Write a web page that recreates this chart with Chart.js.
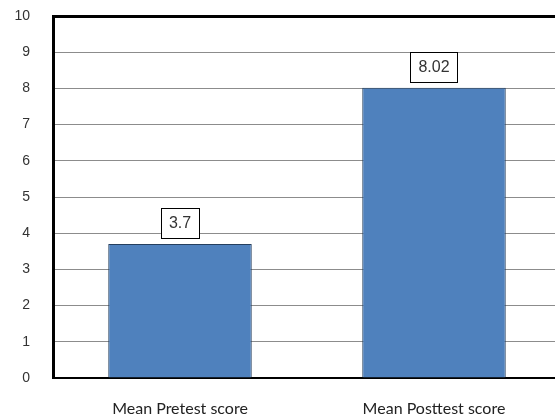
<!DOCTYPE html>
<html>
<head>
<meta charset="utf-8">
<script src="https://cdn.jsdelivr.net/npm/chart.js@4/dist/chart.umd.min.js"></script>
<style>
  html, body { margin: 0; padding: 0; background: #fff; overflow: hidden; }
  #wrap { width: 561px; height: 420px; }
</style>
</head>
<body>
<div id="wrap"><canvas id="scoreChart" width="561" height="420"></canvas></div>
<script>
const categories = ["Mean Pretest score", "Mean Posttest score"];
const meanScores = [3.7, 8.02];
const valueLabels = ["3.7", "8.02"];

// boxed value labels above each bar
const boxLabels = {
  id: "boxLabels",
  afterDatasetsDraw(chart) {
    const ctx = chart.ctx;
    const meta = chart.getDatasetMeta(0);
    ctx.save();
    ctx.font = "16px 'Liberation Sans', Arial, sans-serif";
    ctx.textAlign = "center";
    ctx.textBaseline = "middle";
    meta.data.forEach((bar, i) => {
      const txt = valueLabels[i];
      const w = ctx.measureText(txt).width + 16;
      const h = 30;
      const cy = bar.y - 21;
      ctx.fillStyle = "#fff";
      ctx.fillRect(bar.x - w / 2, cy - h / 2, w, h);
      ctx.strokeStyle = "#000";
      ctx.lineWidth = 1;
      ctx.strokeRect(Math.round(bar.x - w / 2) + 0.5, Math.round(cy - h / 2) + 0.5, Math.round(w), h);
      ctx.fillStyle = "#333";
      ctx.fillText(txt, bar.x, cy + 1);
    });
    ctx.restore();
  },
};

new Chart(document.getElementById("scoreChart"), {
  type: "bar",
  data: {
    labels: categories,
    datasets: [
      {
        data: meanScores,
        backgroundColor: "#4f81bd",
        borderColor: "#253f5e",
        borderWidth: 1,
        barPercentage: 0.565,
        categoryPercentage: 1,
      },
    ],
  },
  options: {
    responsive: false,
    animation: false,
    layout: { padding: { top: 16, right: 0, bottom: 0, left: 0 } },
    scales: {
      x: {
        grid: { display: false },
        border: { color: "#000", width: 2 },
        ticks: { color: "#222", font: { family: "Lato, 'Open Sans', sans-serif", size: 16 }, padding: 13 },
        afterFit: (s) => { s.height = 42; },
      },
      y: {
        min: 0,
        max: 10,
        ticks: { stepSize: 1, color: "#333", font: { family: "'Liberation Sans', Arial, sans-serif", size: 14 }, padding: 23 },
        grid: {
          drawTicks: false,
          color: (c) => (c.tick && c.tick.value === 10 ? "#000" : "#8c8c8c"),
          lineWidth: (c) => (c.tick && c.tick.value === 10 ? 3 : 1),
        },
        border: { color: "#000", width: 3 },
        afterFit: (s) => { s.width = 53; s.paddingTop = 0; s.paddingBottom = 0; },
      },
    },
    plugins: { legend: { display: false }, tooltip: { enabled: false } },
  },
  plugins: [boxLabels],
});
</script>
</body>
</html>
